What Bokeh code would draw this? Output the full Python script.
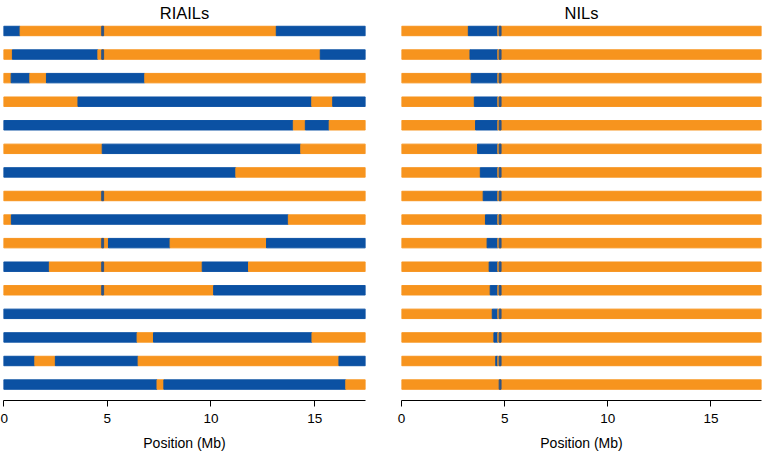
from bokeh.plotting import figure
from bokeh.models import ColumnDataSource, Range1d, FixedTicker
from bokeh.layouts import row
from bokeh.embed import file_html
from bokeh.resources import INLINE

# ---- data ----
CHROM_LEN = 17.45          # chromosome length (Mb)
MARKER_POS = 4.78          # marker position (Mb)
x_ticks = [0, 5, 10, 15]

# genotype of first segment per row (B = blue, O = orange), then breakpoints (Mb)
riail_first = ["B", "O", "O", "O", "B", "O", "B", "O",
               "O", "O", "B", "O", "B", "B", "B", "B"]
riail_breaks = [
    [0.8, 13.15],
    [0.43, 4.55, 15.27],
    [0.37, 1.27, 2.07, 6.81],
    [3.59, 14.86, 15.87],
    [13.97, 14.55, 15.7],
    [4.76, 14.33],
    [11.2],
    [],
    [0.38, 13.73],
    [5.06, 8.03, 12.68],
    [2.21, 9.58, 11.81],
    [10.13],
    [],
    [6.44, 7.23, 14.87],
    [1.51, 2.5, 6.49, 16.17],
    [7.4, 7.73, 16.5],
]

nil_first = ["O"] * 16
nil_breaks = [
    [3.24, 4.67], [3.32, 4.67], [3.38, 4.67], [3.53, 4.67],
    [3.59, 4.67], [3.69, 4.67], [3.82, 4.67], [3.96, 4.67],
    [4.07, 4.67], [4.15, 4.67], [4.25, 4.67], [4.30, 4.67],
    [4.40, 4.67], [4.48, 4.67], [4.57, 4.67], [],
]

ORANGE = "#F7941E"
BLUE = "#0B51A3"
MARKER = "#2F5586"


def build_sources(first, breaks):
    ys, lefts, rights, colors = [], [], [], []
    my = []
    n = len(first)
    for i, (g, b) in enumerate(zip(first, breaks)):
        y = n - i
        edges = [0.0] + list(b) + [CHROM_LEN]
        cur = g
        for a, c in zip(edges[:-1], edges[1:]):
            ys.append(y)
            lefts.append(a)
            rights.append(c)
            colors.append(BLUE if cur == "B" else ORANGE)
            if cur == "O" and a <= MARKER_POS <= c:
                my.append(y)
            cur = "O" if cur == "B" else "B"
    seg = ColumnDataSource(dict(y=ys, left=lefts, right=rights, color=colors))
    mk = ColumnDataSource(dict(y=my,
                               left=[MARKER_POS - 0.045] * len(my),
                               right=[MARKER_POS + 0.045] * len(my)))
    return seg, mk


def make_panel(title, first, breaks, width, bl, br):
    p = figure(width=width, height=453, title=title,
               x_range=Range1d(0, CHROM_LEN), y_range=Range1d(0.324, 16.36),
               output_backend="svg", toolbar_location=None,
               y_axis_location=None, min_border_left=bl, min_border_right=br,
               min_border_top=0, min_border_bottom=0)
    src, msrc = build_sources(first, breaks)
    p.hbar(y="y", left="left", right="right", height=0.4, color="color", source=src)
    p.hbar(y="y", left="left", right="right", height=0.4, color=MARKER, source=msrc)

    p.outline_line_color = None
    p.xgrid.visible = False
    p.ygrid.visible = False
    p.background_fill_color = "white"
    p.border_fill_color = "white"

    p.title.align = "center"
    p.title.text_font = "Liberation Sans"
    p.title.text_font_size = "16.5px"
    p.title.text_font_style = "normal"
    p.title.text_color = "black"
    p.title.offset = 0
    p.title.standoff = 2

    ax = p.xaxis[0]
    ax.ticker = FixedTicker(ticks=x_ticks)
    ax.minor_tick_line_color = None
    ax.major_tick_out = 6
    ax.major_tick_in = 0
    ax.axis_line_color = "black"
    ax.major_tick_line_color = "black"
    ax.major_label_text_font = "Liberation Sans"
    ax.major_label_text_font_size = "13.5px"
    ax.major_label_text_color = "black"
    ax.major_label_standoff = 7
    ax.axis_label = "Position (Mb)"
    ax.axis_label_text_font = "Liberation Sans"
    ax.axis_label_text_font_size = "14px"
    ax.axis_label_text_font_style = "normal"
    ax.axis_label_text_color = "black"
    ax.axis_label_standoff = 9
    return p


p1 = make_panel("RIAILs", riail_first, riail_breaks, 383, 3, 18)
p2 = make_panel("NILs", nil_first, nil_breaks, 379, 18, 1)

layout = row(p1, p2)
open("out.html", "w").write(file_html(layout, INLINE))
